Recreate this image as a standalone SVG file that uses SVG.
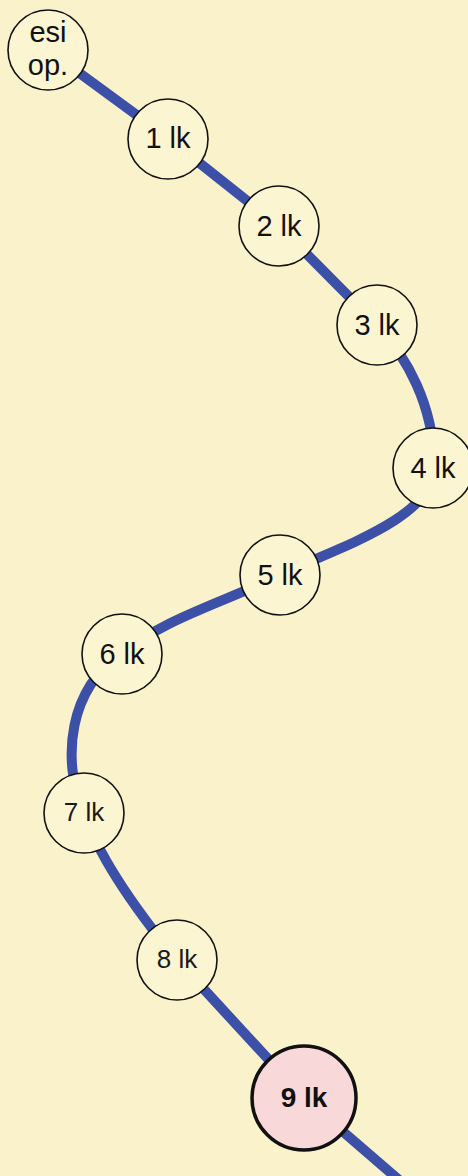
<svg xmlns="http://www.w3.org/2000/svg" width="468" height="1176" viewBox="0 0 468 1176">
<style>
.bg{fill:#faf2cb}
.n{fill:#fbf5d1;stroke:#111;stroke-width:1.6}
.end{fill:#f9d8da;stroke:#111;stroke-width:3.5}
.t{font-family:"Liberation Sans",Arial,sans-serif;font-size:29px;fill:#111;text-anchor:middle}
.s{font-size:26px;fill:#1a1a1a}
.b{font-weight:bold;font-size:28px}
.link{fill:none;stroke:#3c50a8;stroke-width:10}
</style>
<rect class="bg" x="0" y="0" width="468" height="1176"/>
<g id="connectors">
<path class="link" d="M48,50 L168,138 L279,226 L377,325 C405,355 435,405 434,468 C433,520 330,550 280,575 C230,600 160,620 122,654 C70,685 60,760 84,813 C100,860 140,915 177,960 L304,1098 L399,1180"/>
</g>
<g id="esi"><circle class="n" cx="48" cy="50" r="40"/><text class="t" x="48" y="42">esi</text><text class="t" x="48" y="75">op.</text></g>
<g id="lk1"><circle class="n" cx="168" cy="139" r="40"/><text class="t" x="168" y="148">1 lk</text></g>
<g id="lk2"><circle class="n" cx="279" cy="226" r="40"/><text class="t" x="279" y="236">2 lk</text></g>
<g id="lk3"><circle class="n" cx="377" cy="325" r="40"/><text class="t" x="377" y="335">3 lk</text></g>
<g id="lk4"><circle class="n" cx="433" cy="468" r="40"/><text class="t" x="433" y="478">4 lk</text></g>
<g id="lk5"><circle class="n" cx="280" cy="575" r="40"/><text class="t" x="280" y="585">5 lk</text></g>
<g id="lk6"><circle class="n" cx="122" cy="654" r="40"/><text class="t" x="122" y="664">6 lk</text></g>
<g id="lk7"><circle class="n" cx="84" cy="813" r="40"/><text class="t s" x="84" y="821">7 lk</text></g>
<g id="lk8"><circle class="n" cx="177" cy="960" r="40"/><text class="t s" x="177" y="968">8 lk</text></g>
<g id="lk9"><circle class="end" cx="304" cy="1098" r="52"/><text class="t b" x="304" y="1107">9 lk</text></g>
</svg>
